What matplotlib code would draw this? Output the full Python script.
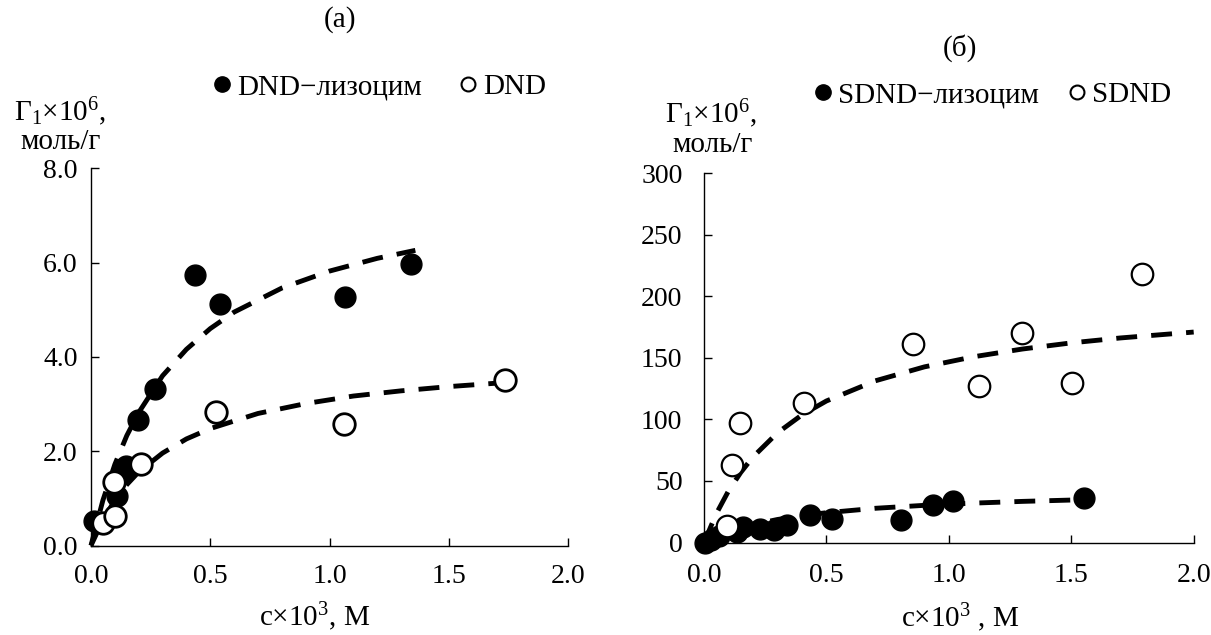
import matplotlib
matplotlib.use("Agg")
import matplotlib.pyplot as plt
from matplotlib.lines import Line2D

plt.rcParams['font.family'] = ['Liberation Serif', 'DejaVu Serif']
plt.rcParams['mathtext.fontset'] = 'custom'
plt.rcParams['mathtext.rm'] = 'Liberation Serif'
plt.rcParams['mathtext.it'] = 'Liberation Serif:italic'

# (a) DND
dnd_lys_c = [0.013, 0.11, 0.132, 0.145, 0.195, 0.268, 0.435, 0.541, 1.066, 1.34]
dnd_lys_g = [0.52, 1.05, 1.55, 1.68, 2.66, 3.31, 5.73, 5.13, 5.26, 5.97]
dnd_c = [0.05, 0.102, 0.096, 0.211, 0.525, 1.061, 1.735]
dnd_g = [0.48, 0.63, 1.35, 1.72, 2.83, 2.57, 3.52]
# dashed curves
fit_a1_c = [0, 0.05, 0.1, 0.15, 0.2, 0.3, 0.4, 0.5, 0.6, 0.8, 1.0, 1.2, 1.36]
fit_a1_g = [0, 0.96, 1.72, 2.33, 2.82, 3.6, 4.16, 4.6, 4.95, 5.46, 5.82, 6.09, 6.26]
fit_a2_c = [0, 0.05, 0.1, 0.15, 0.2, 0.3, 0.4, 0.5, 0.7, 0.9, 1.1, 1.3, 1.5, 1.72]
fit_a2_g = [0, 0.54, 0.96, 1.29, 1.56, 1.96, 2.26, 2.48, 2.8, 3.01, 3.17, 3.28, 3.37, 3.45]

# (б) SDND
sdnd_lys_c = [0.005, 0.03, 0.06, 0.135, 0.159, 0.23, 0.286, 0.341, 0.433,
              0.524, 0.806, 0.937, 1.016, 1.553]
sdnd_lys_g = [0, 2, 5, 8.2, 12.2, 10.9, 10.0, 14.1, 22.5, 19.0, 18.2, 30.4, 34.0, 36.1]
sdnd_c = [0.095, 0.116, 0.146, 0.408, 0.854, 1.122, 1.299, 1.502, 1.79]
sdnd_g = [13.6, 63, 97.2, 113, 161.5, 127, 170, 129.7, 218.4]
fit_b1_c = [0, 0.05, 0.1, 0.15, 0.2, 0.3, 0.4, 0.5, 0.7, 0.9, 1.1, 1.3, 1.5, 1.7, 2.0]
fit_b1_g = [0, 23.3, 41.9, 56.9, 69.5, 89.1, 103.7, 115, 131.4, 142.7, 150.9, 157.2,
            162.2, 166.2, 171]
fit_b2_c = [0, 0.05, 0.1, 0.2, 0.3, 0.4, 0.5, 0.7, 0.9, 1.1, 1.3, 1.52]
fit_b2_g = [0, 4.8, 8.7, 14.5, 18.7, 21.8, 24.2, 27.8, 30.2, 32.0, 33.4, 34.6]

fs = 20
lfs = 21
W, H = 1211, 635
fig = plt.figure(figsize=(12.11, 6.35), dpi=100)
ax1 = fig.add_axes([91 / W, 1 - 545.5 / H, 477 / W, 377.2 / H])
ax2 = fig.add_axes([704 / W, 1 - 542.5 / H, 489.7 / W, 369.2 / H])


def style(ax, ymax, yticks, ylabels, ypad, xpad):
    ax.set_xlim(0, 2.0)
    ax.set_ylim(0, ymax)
    ax.set_xticks([0, 0.5, 1.0, 1.5, 2.0])
    ax.set_xticklabels(['0.0', '0.5', '1.0', '1.5', '2.0'])
    ax.set_yticks(yticks)
    ax.set_yticklabels(ylabels)
    for s in ['top', 'right']:
        ax.spines[s].set_visible(False)
    for s in ['left', 'bottom']:
        ax.spines[s].set_linewidth(1.0)
    ax.tick_params(direction='in', length=6, width=1.0, labelsize=fs)
    ax.tick_params(axis='y', pad=ypad)
    ax.tick_params(axis='x', pad=xpad)


def draw(ax, fc, fg, oc, og, f1c, f1g, f2c, f2g, mew):
    ax.plot(f1c, f1g, color='black', lw=3.5, dashes=(4.3, 2.9), zorder=2, clip_on=False)
    ax.plot(f2c, f2g, color='black', lw=3.5, dashes=(4.3, 2.9), zorder=2, clip_on=False)
    ax.plot(fc, fg, 'o', color='black', ms=15, zorder=3, clip_on=False)
    ax.plot(oc, og, 'o', mfc='white', mec='black', mew=mew, ms=15.5, zorder=4, clip_on=False)


draw(ax1, dnd_lys_c, dnd_lys_g, dnd_c, dnd_g, fit_a1_c, fit_a1_g, fit_a2_c, fit_a2_g, 2.0)
style(ax1, 8.0, [0, 2, 4, 6, 8], ['0.0', '2.0', '4.0', '6.0', '8.0'], 9.5, 13)
draw(ax2, sdnd_lys_c, sdnd_lys_g, sdnd_c, sdnd_g, fit_b1_c, fit_b1_g, fit_b2_c, fit_b2_g, 1.6)
style(ax2, 300, [0, 50, 100, 150, 200, 250, 300],
      ['0', '50', '100', '150', '200', '250', '300'], 15.5, 15)

fig.text(315 / W, 1 - 626 / H, 'c×10$^{3}$, M', fontsize=lfs, ha='center', va='baseline')
fig.text(960 / W, 1 - 627 / H, 'c×10$^{3}$ , M', fontsize=lfs, ha='center', va='baseline')

fig.text(340 / W, 1 - 20 / H, '(a)', fontsize=lfs, ha='center', va='center')
fig.text(960 / W, 1 - 48 / H, '(б)', fontsize=lfs, ha='center', va='center')

gamma = r'$\mathregular{Γ_1}$×10$^{6}$,'
fig.text(106 / W, 1 - 121 / H, gamma, fontsize=lfs, ha='right', va='baseline')
fig.text(101 / W, 1 - 149 / H, 'моль/г', fontsize=lfs, ha='right', va='baseline')
fig.text(757 / W, 1 - 123 / H, gamma, fontsize=lfs, ha='right', va='baseline')
fig.text(753 / W, 1 - 152 / H, 'моль/г', fontsize=lfs, ha='right', va='baseline')


def legend(ax, labels, x, y, spacing):
    h = [Line2D([], [], ls='none', marker='o', color='black', ms=11),
         Line2D([], [], ls='none', marker='o', mfc='white', mec='black', mew=1.5, ms=10)]
    ax.legend(h, labels, ncol=2, frameon=False, fontsize=lfs, handlelength=0.6,
              handletextpad=0.22, columnspacing=spacing, loc='center left',
              bbox_to_anchor=(x, y), bbox_transform=fig.transFigure, borderpad=0,
              borderaxespad=0)


legend(ax1, ['DND−лизоцим', 'DND'], 213 / W, 1 - 87 / H, 1.3)
legend(ax2, ['SDND−лизоцим', 'SDND'], 814 / W, 1 - 95 / H, 1.0)

fig.savefig('out.png', dpi=100)
